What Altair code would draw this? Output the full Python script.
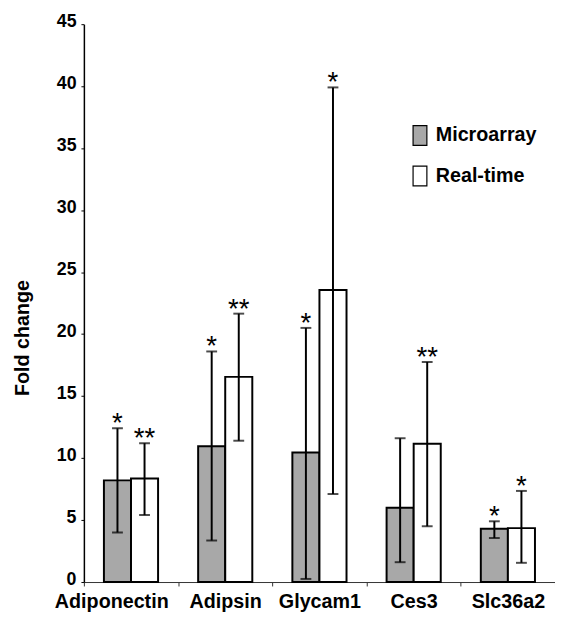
import altair as alt
import pandas as pd

genes = ["Adiponectin", "Adipsin", "Glycam1", "Ces3", "Slc36a2"]
series = ["Microarray", "Real-time"]

micro_mean = [8.2, 10.95, 10.45, 6.0, 4.3]
micro_lo = [4.0, 3.35, 0.25, 1.6, 3.55]
micro_hi = [12.4, 18.6, 20.5, 11.6, 4.9]
micro_sig = ["*", "*", "*", "", "*"]

rt_mean = [8.35, 16.55, 23.55, 11.15, 4.35]
rt_lo = [5.4, 11.4, 7.1, 4.5, 1.55]
rt_hi = [11.2, 21.65, 39.9, 17.75, 7.35]
rt_sig = ["**", "**", "*", "**", "*"]

y_ticks = [0, 5, 10, 15, 20, 25, 30, 35, 40, 45]

rows = []
for i, g in enumerate(genes):
    rows.append(dict(gene=g, series="Microarray", mean=micro_mean[i], lo=micro_lo[i], hi=micro_hi[i], sig=micro_sig[i]))
    rows.append(dict(gene=g, series="Real-time", mean=rt_mean[i], lo=rt_lo[i], hi=rt_hi[i], sig=rt_sig[i]))
df = pd.DataFrame(rows)

FONT = "Liberation Sans"

x_enc = alt.X(
    "gene:N",
    sort=genes,
    scale=alt.Scale(paddingInner=0, paddingOuter=0),
    axis=alt.Axis(
        title=None,
        labelAngle=0,
        labelFont=FONT,
        labelFontSize=20,
        labelFontWeight="bold",
        labelColor="black",
        labelPadding=6,
        tickBand="extent",
        tickSize=4,
        tickColor="#333333",
        domainColor="#333333",
        domainWidth=1,
        labelOffset={"condition": {"test": "datum.value === 'Adiponectin'", "value": -20}, "value": 0},
    ),
)
xoff = alt.XOffset("series:N", sort=series, scale=alt.Scale(paddingInner=0, paddingOuter=0.74))
y_scale = alt.Scale(domain=[0, 45], nice=False, zero=True)

bars = alt.Chart(df).mark_bar(stroke="black", strokeWidth=2).encode(
    x=x_enc,
    xOffset=xoff,
    y=alt.Y(
        "mean:Q",
        scale=y_scale,
        axis=alt.Axis(
            title="Fold change",
            values=y_ticks,
            grid=False,
            labelFont=FONT,
            labelFontSize=18,
            labelFontWeight="bold",
            labelColor="black",
            labelPadding=5,
            labelOffset=-3,
            tickSize=3,
            tickColor="black",
            domainColor="black",
            domainWidth=1.5,
            titleFont=FONT,
            titleFontSize=20,
            titleFontWeight="bold",
            titleColor="black",
            titleX=-62,
            titleY=318,
            titleAngle=270,
            titleAlign="center",
            titleBaseline="middle",
        ),
    ),
    fill=alt.Fill(
        "series:N",
        sort=series,
        scale=alt.Scale(domain=series, range=["#a8a8a8", "#ffffff"]),
        legend=alt.Legend(
            title=None,
            orient="none",
            legendX=330,
            legendY=102,
            direction="vertical",
            symbolType="M-0.7,-1H0.7V1H-0.7Z",
            symbolSize=400,
            symbolStrokeColor="black",
            symbolStrokeWidth=1.2,
            labelFont=FONT,
            labelFontSize=20,
            labelFontWeight="bold",
            labelColor="black",
            labelOffset=5,
            rowPadding=15,
            padding=0,
        ),
    ),
)

rules = alt.Chart(df).mark_rule(color="black", strokeWidth=2).encode(
    x=alt.X("gene:N", sort=genes),
    xOffset=xoff,
    y=alt.Y("lo:Q", scale=y_scale),
    y2="hi:Q",
)

cap_hi = alt.Chart(df).mark_tick(color="black", size=11, thickness=2).encode(
    x=alt.X("gene:N", sort=genes),
    xOffset=xoff,
    y=alt.Y("hi:Q", scale=y_scale),
)
cap_lo = alt.Chart(df).mark_tick(color="black", size=11, thickness=2).encode(
    x=alt.X("gene:N", sort=genes),
    xOffset=xoff,
    y=alt.Y("lo:Q", scale=y_scale),
)

stars = alt.Chart(df).mark_text(
    font=FONT, fontSize=28, color="black", baseline="alphabetic", align="center", dy=4
).encode(
    x=alt.X("gene:N", sort=genes),
    xOffset=xoff,
    y=alt.Y("hi:Q", scale=y_scale),
    text="sig:N",
)

chart = (
    alt.layer(bars, rules, cap_hi, cap_lo, stars)
    .properties(
        width=478,
        height=566,
        padding={"left": 77, "top": 12, "right": 0, "bottom": 28},
        autosize=alt.AutoSizeParams(type="none"),
        background="white",
    )
    .configure_view(stroke=None)
)

chart.save("out.html", embed_options={"renderer": "svg", "actions": False})
